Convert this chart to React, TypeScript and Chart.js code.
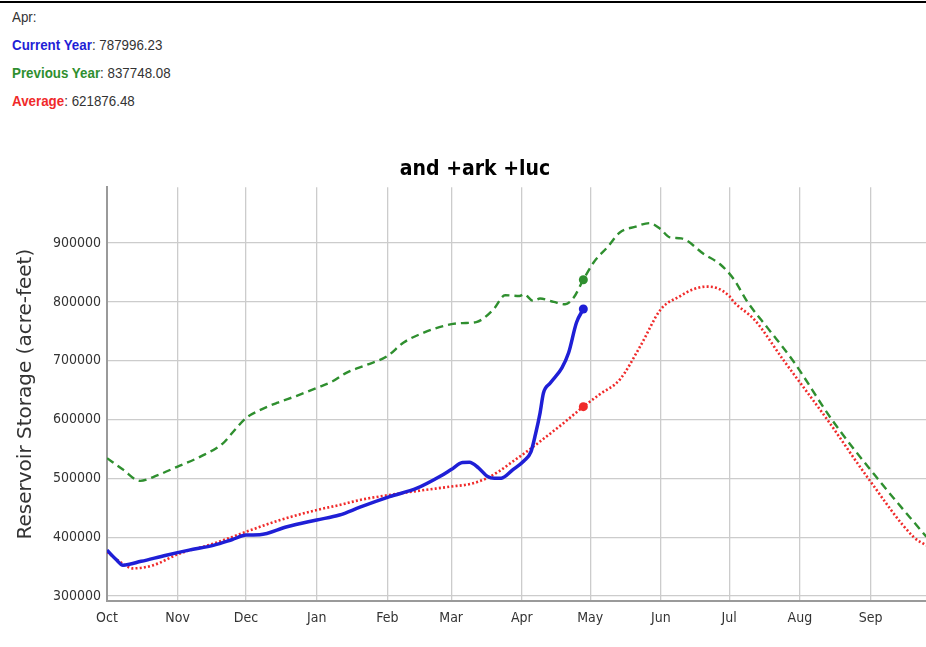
import React, { useEffect, useRef } from "react";
import { Chart, registerables } from "chart.js";

Chart.register(...registerables);

// ---- data ----
const chartTitle = "and +ark +luc";
const yAxisTitle = "Reservoir Storage (acre-feet)";
const monthLabels = ["Oct", "Nov", "Dec", "Jan", "Feb", "Mar", "Apr", "May", "Jun", "Jul", "Aug", "Sep"];
const monthStartDays = [0, 31, 61, 92, 123, 151, 182, 212, 243, 273, 304, 335];
const yTickValues = [300000, 400000, 500000, 600000, 700000, 800000, 900000];
const markerDay = 209;

const legendMonth = "Apr";
const legendCurrent = "787996.23";
const legendPrevious = "837748.08";
const legendAverage = "621876.48";

const currentDays = [0, 4, 7, 15, 26, 36, 47, 55, 61, 67, 79, 92, 102, 111, 124, 136, 146, 151, 156, 159, 163, 167, 170, 173, 178, 183, 186, 188, 190, 191.5, 194.5, 199.6, 202.5, 206, 209];
const currentValues = [378000, 362000, 352400, 359000, 369400, 378000, 386500, 396000, 403500, 404000, 417700, 429200, 437700, 451000, 468900, 483200, 503000, 515000, 527000, 527500, 518000, 503000, 500000, 500300, 514400, 530000, 545000, 575000, 611000, 645000, 662000, 688000, 713000, 765000, 787996];

const previousDays = [0, 7, 14.5, 22, 31, 41, 51, 55, 61, 66, 74.5, 83, 92, 99, 105, 114, 123, 130, 139, 150.6, 156, 162, 169.6, 174.7, 181, 183, 187, 190, 196, 201, 204.7, 209, 213.5, 220, 225, 232, 238, 242.8, 247, 252, 262, 269, 275, 281, 290, 301, 318, 338, 359.5];
const previousValues = [534400, 515000, 495700, 505000, 520000, 537000, 560000, 577500, 602600, 614000, 628200, 640000, 653800, 665000, 679400, 693000, 707800, 730600, 747700, 761800, 764000, 765700, 787400, 811300, 810000, 813000, 801600, 805700, 800000, 796000, 807000, 837748, 867000, 895000, 918000, 928000, 934000, 924000, 909700, 908000, 881000, 864000, 838600, 800000, 755000, 700000, 600000, 500000, 400600];

const averageDays = [0, 5, 11.5, 20, 32, 47, 61, 76, 92, 102, 111, 124, 137, 150.6, 160, 166.7, 172, 178, 184, 190, 200, 209, 216, 225, 234, 243, 251.5, 257, 263, 268, 273, 275, 284, 297, 316, 334, 354, 359.5];
const averageValues = [375000, 360000, 347000, 352000, 372300, 389400, 409200, 429200, 446200, 454700, 463300, 471800, 479000, 485900, 491000, 500300, 512000, 528600, 545000, 562700, 593000, 621876, 642400, 668000, 724800, 787400, 810000, 821000, 826000, 823000, 810000, 800000, 770000, 700000, 600000, 500000, 400000, 386000];

// ---- styles ----
const BLUE = "#1f1fd6";
const GREEN = "#2f8f2f";
const RED = "#f02a2a";
const FONT = "'DejaVu Sans Condensed', 'Liberation Sans', Arial, sans-serif";
const CANVAS_W = 950;
const CANVAS_H = 507;
const X_MAX_DAY = 367.9;

const toPoints = (days: number[], vals: number[]) => days.map((d, i) => ({ x: d, y: vals[i] }));

export default function App() {
  const canvasRef = useRef<HTMLCanvasElement | null>(null);

  useEffect(() => {
    document.body.style.margin = "0";
    const canvas = canvasRef.current;
    if (!canvas) return;
    const markerRadius = (ctx: any) => (ctx.raw && ctx.raw.x === markerDay ? 4.5 : 0);
    const chart = new Chart(canvas, {
      type: "line",
      data: {
        datasets: [
          {
            label: "Current Year",
            data: toPoints(currentDays, currentValues),
            borderColor: BLUE,
            backgroundColor: BLUE,
            borderWidth: 3.5,
            pointRadius: markerRadius,
            pointBackgroundColor: BLUE,
            pointBorderWidth: 0,
            cubicInterpolationMode: "monotone",
          },
          {
            label: "Previous Year",
            data: toPoints(previousDays, previousValues),
            borderColor: GREEN,
            backgroundColor: GREEN,
            borderWidth: 2.4,
            borderDash: [8, 5],
            pointRadius: markerRadius,
            pointBackgroundColor: GREEN,
            pointBorderWidth: 0,
            cubicInterpolationMode: "monotone",
          },
          {
            label: "Average",
            data: toPoints(averageDays, averageValues),
            borderColor: RED,
            backgroundColor: RED,
            borderWidth: 2.6,
            borderDash: [2, 2.2],
            pointRadius: markerRadius,
            pointBackgroundColor: RED,
            pointBorderWidth: 0,
            cubicInterpolationMode: "monotone",
          },
        ],
      },
      options: {
        responsive: false,
        animation: false,
        layout: { padding: 0 },
        plugins: {
          legend: { display: false },
          tooltip: { enabled: false },
          title: {
            display: true,
            text: chartTitle,
            color: "#000",
            font: { family: FONT, size: 21, weight: "bold" },
            padding: { top: 17, bottom: 5 },
          },
        },
        scales: {
          x: {
            type: "linear",
            min: 0,
            max: X_MAX_DAY,
            afterBuildTicks: (scale: any) => {
              scale.ticks = monthStartDays.map((v) => ({ value: v }));
            },
            afterFit: (scale: any) => {
              scale.height = 46;
            },
            ticks: {
              autoSkip: false,
              maxRotation: 0,
              padding: 9,
              color: "#333",
              font: { family: FONT, size: 14 },
              callback: (v: any) => {
                const i = monthStartDays.indexOf(Number(v));
                return i >= 0 ? monthLabels[i] : "";
              },
            },
            grid: { color: "#cccccc", lineWidth: 1.3, drawTicks: false },
            border: { display: true, color: "#9a9a9a", width: 2 },
          },
          y: {
            type: "linear",
            min: 291500,
            max: 995000,
            afterBuildTicks: (scale: any) => {
              scale.ticks = yTickValues.map((v) => ({ value: v }));
            },
            afterFit: (scale: any) => {
              scale.width = 107;
            },
            ticks: {
              padding: 6,
              color: "#333",
              font: { family: FONT, size: 14 },
              callback: (v: any) => String(v),
            },
            grid: { color: "#cccccc", lineWidth: 1.3, drawTicks: false },
            border: { display: true, color: "#9a9a9a", width: 2 },
            title: {
              display: true,
              text: yAxisTitle,
              color: "#333",
              font: { family: "'DejaVu Sans', Arial, sans-serif", size: 20 },
              padding: { top: 14, bottom: 0 },
            },
          },
        },
      },
    } as any);
    return () => chart.destroy();
  }, []);

  const lineStyle: React.CSSProperties = {
    height: 28,
    lineHeight: "28px",
    whiteSpace: "nowrap",
  };

  return (
    <div style={{ position: "relative", width: 926, height: 647, overflow: "hidden", background: "#fff" }}>
      <div style={{ position: "absolute", left: 0, top: 1, width: 926, height: 2, background: "#000" }} />
      <div
        style={{
          position: "absolute",
          left: 12,
          top: 3,
          fontFamily: "'Liberation Sans', Arial, sans-serif",
          fontSize: 15,
          color: "#333",
          transform: "scaleX(0.89)",
          transformOrigin: "left top",
        }}
      >
        <div style={lineStyle}>{legendMonth}:</div>
        <div style={lineStyle}>
          <b style={{ color: BLUE }}>Current Year</b>: {legendCurrent}
        </div>
        <div style={lineStyle}>
          <b style={{ color: GREEN }}>Previous Year</b>: {legendPrevious}
        </div>
        <div style={lineStyle}>
          <b style={{ color: RED }}>Average</b>: {legendAverage}
        </div>
      </div>
      <div style={{ position: "absolute", left: 0, top: 140, width: CANVAS_W, height: CANVAS_H }}>
        <canvas ref={canvasRef} width={CANVAS_W} height={CANVAS_H} />
      </div>
    </div>
  );
}
